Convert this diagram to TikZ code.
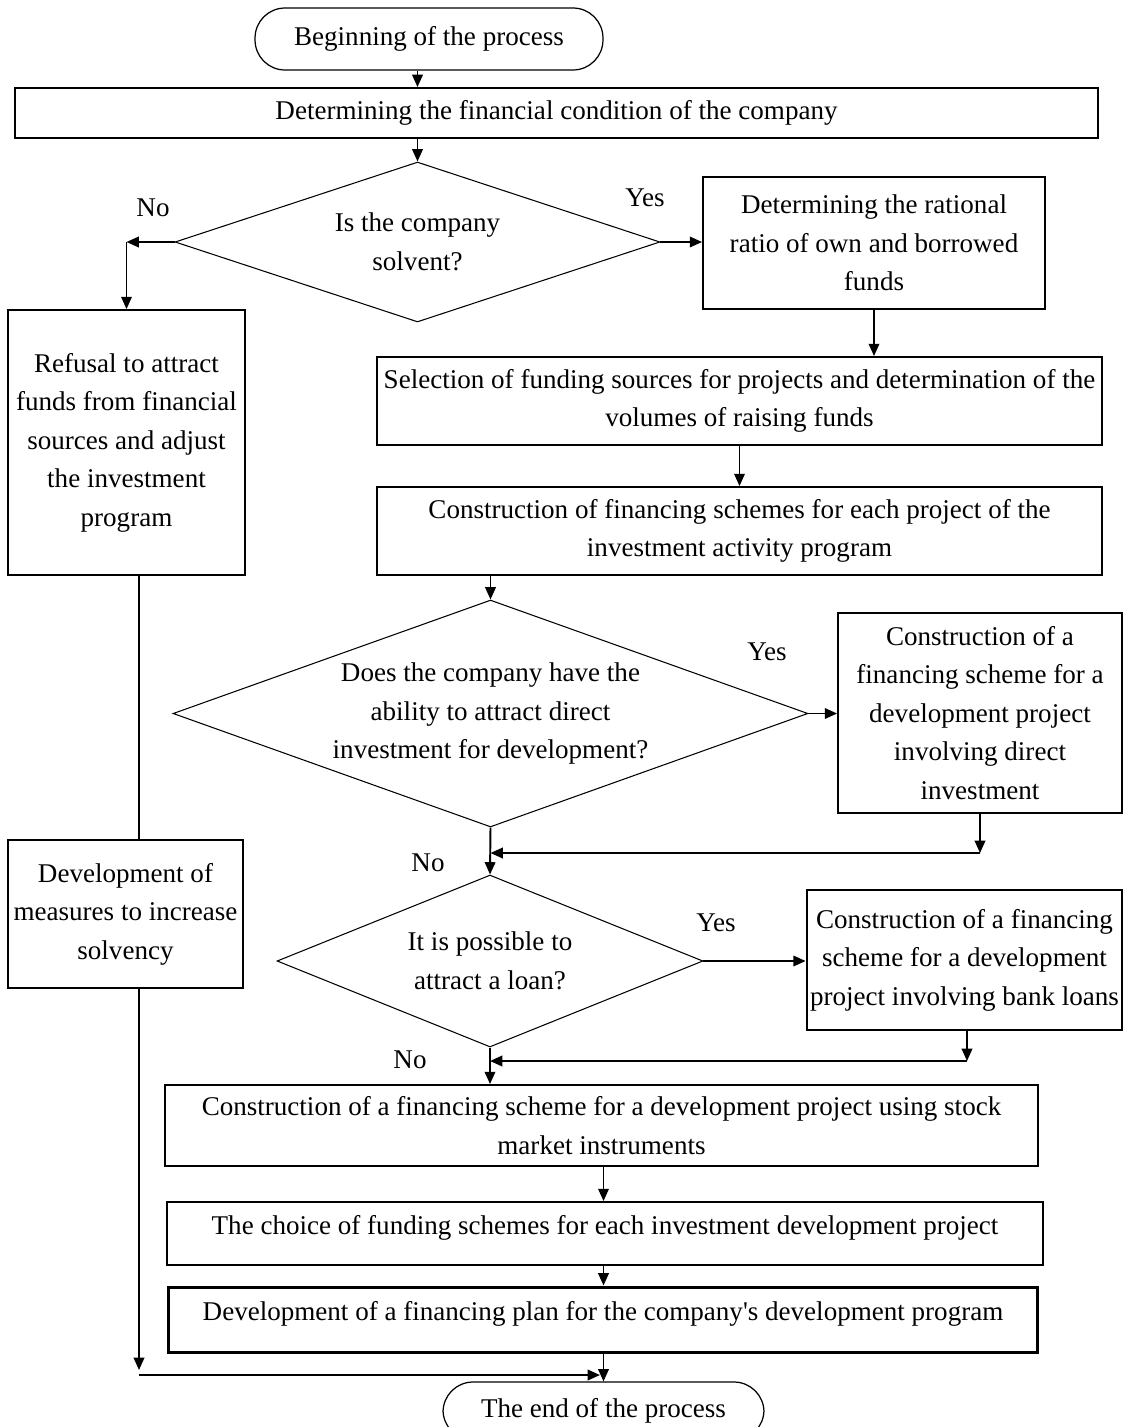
\documentclass[tikz,border=0pt]{standalone}
\usepackage{fontspec}
\setmainfont{Liberation Serif}
\usepackage{tikz}
\usetikzlibrary{arrows.meta, shapes.geometric}
\tikzset{>={Triangle[width=6pt,length=7pt]}}

\begin{document}
\begin{tikzpicture}[x=0.02cm, y=-0.02cm,
    every node/.style = {font=\fontsize{15.4pt}{21.9pt}\selectfont, align=center},
    box/.style = {draw, line width=1.1pt, inner xsep=2pt, inner ysep=0pt},
    terminal/.style = {draw, line width=0.7pt, rounded corners=0.6cm, inner sep=0pt},
    decision/.style = {draw, diamond, line width=0.6pt, inner sep=0pt},
    answer/.style = {inner sep=0pt},
    flow/.style = {->, line width=1.1pt}]
    \useasboundingbox (0,0) rectangle (1127,1427);
    \clip (0,0) rectangle (1127,1427);
    % main column
    \node (begin) [terminal, minimum width=6.96cm, minimum height=1.24cm] at (429,39) {Beginning of the process};
    \node (cond) [box, minimum width=21.66cm, minimum height=1cm] at (556.5,113) {Determining the financial condition of the company};
    \node (d1) [decision, shape aspect=3.03, minimum width=9.7cm, minimum height=3.2cm] at (417.5,242) {Is the company\\solvent?};
    \node (ratio) [box, minimum width=6.84cm, minimum height=2.64cm] at (874,243) {Determining the rational\\ratio of own and borrowed\\funds};
    \node (sel) [box, minimum width=14.5cm, minimum height=1.76cm] at (739.5,401) {Selection of funding sources for projects and determination of the\\volumes of raising funds};
    \node (cons) [box, minimum width=14.5cm, minimum height=1.76cm] at (739.5,531) {Construction of financing schemes for each project of the\\investment activity program};
    \node (d2) [decision, shape aspect=2.8, minimum width=12.7cm, minimum height=4.54cm] at (490.5,713.5) {Does the company have the\\ability to attract direct\\investment for development?};
    \node (direct) [box, minimum width=5.68cm, minimum height=4cm] at (980,713) {Construction of a\\financing scheme for a\\development project\\involving direct\\investment};
    \node (d3) [decision, shape aspect=2.48, minimum width=8.52cm, minimum height=3.44cm] at (490,961) {It is possible to\\attract a loan?};
    \node (loan) [box, minimum width=6.3cm, minimum height=2.8cm] at (964.5,960) {Construction of a financing\\scheme for a development\\project involving bank loans};
    \node (stock) [box, minimum width=17.46cm, minimum height=1.62cm] at (601.5,1125.5) {Construction of a financing scheme for a development project using stock\\market instruments};
    \node (choice) [box, minimum width=17.52cm, minimum height=1.26cm, text height=0.3cm, text depth=0.26cm] at (605,1233.5) {The choice of funding schemes for each investment development project};
    \node (plan) [box, line width=1.7pt, minimum width=17.4cm, minimum height=1.3cm, text height=0.3cm, text depth=0.26cm] at (603,1319.5) {Development of a financing plan for the company\textquotesingle s development program};
    \node (endn) [terminal, minimum width=6.42cm, minimum height=1.16cm] at (603.5,1411) {The end of the process};
    % left column
    \node (ref) [box, minimum width=4.74cm, minimum height=5.3cm] at (126.5,442.5) {Refusal to attract\\funds from financial\\sources and adjust\\the investment\\program};
    \node (meas) [box, minimum width=4.7cm, minimum height=2.96cm] at (125.5,914) {Development of\\measures to increase\\solvency};
    % answers
    \node (no1) [answer] at (153,208) {No};
    \node (yes1) [answer] at (645,198) {Yes};
    \node (yes2) [answer] at (767,652) {Yes};
    \node (no2) [answer] at (428,863) {No};
    \node (yes3) [answer] at (716,923) {Yes};
    \node (no3) [answer] at (410,1060) {No};
    % junctions
    \coordinate (nocorner) at (ref.north |- d1.west);
    \coordinate (j1) at (980,853);
    \coordinate (j2) at (967,1061);
    \coordinate (k) at (139,1375);
    % connectors
    \draw[flow] (d1.north |- begin.south) -- (d1.north |- cond.north);
    \draw[flow] (d1.north |- cond.south) -- (d1.north);
    \draw[flow] (d1.west) -- (nocorner);
    \draw[flow] (nocorner) -- (ref.north);
    \draw[flow] (d1.east) -- (d1.east -| ratio.west);
    \draw[flow] (ratio.south) -- (ratio.south |- sel.north);
    \draw[flow] (sel.south) -- (cons.north);
    \draw[flow] (d2.north |- cons.south) -- (d2.north);
    \draw[flow] (d2.east) -- (d2.east -| direct.west);
    \draw[flow] (direct.south -| j1) -- (j1);
    \draw[flow] (j1) -- (j1 -| d2.south);
    \draw[flow] (d2.south) -- (d3.north);
    \draw[flow] (d3.east) -- (d3.east -| loan.west);
    \draw[flow] (loan.south -| j2) -- (j2);
    \draw[flow] (j2) -- (j2 -| d3.south);
    \draw[flow] (d3.south) -- (d3.south |- stock.north);
    \draw[flow] (stock.south -| endn.north) -- (endn.north |- choice.north);
    \draw[flow] (choice.south -| endn.north) -- (endn.north |- plan.north);
    \draw[flow] (plan.south -| endn.north) -- (endn.north);
    \draw[line width=1.1pt] (ref.south -| k) -- (meas.north -| k);
    \draw[flow] (meas.south -| k) -- ([yshift=0.1cm]k);
    \draw[flow, shorten >=2pt] (k) -- (k -| endn.north);
\end{tikzpicture}
\end{document}
